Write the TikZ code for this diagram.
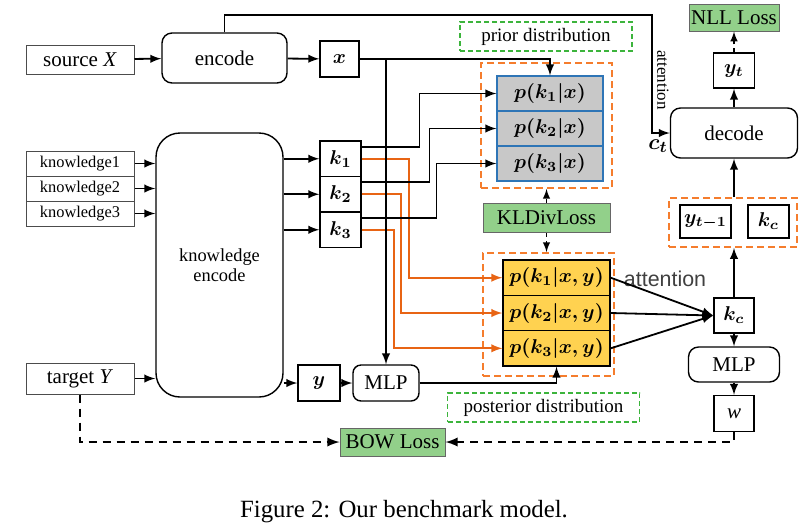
\documentclass[tikz,border=0pt]{standalone}
\usepackage{amsmath,amssymb}
\usepackage{fontspec}
\setmainfont{Liberation Serif}
\newfontfamily\attfont{Liberation Sans}
\usetikzlibrary{calc}
\definecolor{cgreen}{RGB}{146,208,138}
\definecolor{cgreenline}{RGB}{60,180,60}
\definecolor{corange}{RGB}{245,125,45}
\definecolor{cwire}{RGB}{232,100,20}
\definecolor{cgray}{RGB}{200,200,200}
\definecolor{cblue}{RGB}{46,117,182}
\definecolor{cyellow}{RGB}{255,210,80}
\newcommand{\bx}[1]{\boldsymbol{#1}}
\tikzset{
  every picture/.style={line width=0.7pt, >=latex},
  sbox/.style={draw, line width=0.7pt, inner sep=0pt, font=\fontsize{10.5}{12}\selectfont},
  sthin/.style={sbox, draw=black!70, line width=0.5pt},
  sround/.style={sbox, rounded corners=5pt},
  ssmall/.style={sthin, font=\fontsize{8.2}{10}\selectfont, minimum width=54pt, minimum height=12.5pt},
  svar/.style={sbox, font=\fontsize{10}{12}\selectfont, minimum width=20.5pt, minimum height=17.75pt},
  sprior/.style={svar, draw=cblue, line width=0.6pt, fill=cgray, minimum width=53pt, minimum height=17.5pt},
  spost/.style={svar, fill=cyellow, minimum width=53.5pt, minimum height=17.66pt},
  sloss/.style={sbox, draw=black!60, fill=cgreen, line width=0.5pt},
  sdist/.style={sbox, draw=cgreenline, dash pattern=on 2.5pt off 1.5pt, line width=0.8pt, font=\fontsize{9.5}{11}\selectfont},
  sgroup/.style={draw=corange, dash pattern=on 3.5pt off 2pt, line width=0.9pt, inner sep=0pt},
  swire/.style={->, line width=0.9pt},
  sowire/.style={swire, draw=cwire},
  sloose/.style={swire, line width=1.1pt, dash pattern=on 4pt off 3pt},
  sdot/.style={swire, line width=0.7pt, dash pattern=on 2pt off 2pt},
  scaption/.style={font=\fontsize{12.4}{14}\selectfont},
}

\begin{document}
\begin{tikzpicture}[x=0.5pt, y=-0.5pt]
\useasboundingbox (0,0) rectangle (808,527);
% inputs and encoders
\node[sthin, minimum width=54pt, minimum height=14.5pt] (src) at (80,59.5) {source \textit{X}};
\node[sround, minimum width=62.5pt, minimum height=25pt] (enc) at (224.5,58) {encode};
\node[svar, minimum width=19.5pt, minimum height=18pt] (xv) at (339.5,59) {$\bx{x}$};
\node[ssmall] (kn1) at (80,163.5) {knowledge1}; \node[ssmall] (kn2) at (80,188.5) {knowledge2}; \node[ssmall] (kn3) at (80,213.5) {knowledge3};
\node[sround, rounded corners=12pt, minimum width=63.5pt, minimum height=132pt, align=center, font=\fontsize{9.2}{10}\selectfont] (kenc) at (219.5,265) {knowledge\\encode};
\node[svar] (k1) at (340.5,158.75) {$\bx{k_1}$}; \node[svar] (k2) at (340.5,194.25) {$\bx{k_2}$}; \node[svar] (k3) at (340.5,229.75) {$\bx{k_3}$};
\node[sthin, minimum width=54pt, minimum height=15.5pt] (tgt) at (80,378.5) {target \textit{Y}};
\node[svar, minimum width=21pt, minimum height=18pt] (yv) at (319,383) {$\bx{y}$};
\node[sround, rounded corners=4pt, minimum width=33pt, minimum height=18pt] (mlpa) at (386,383) {MLP};
% prior / posterior
\node[sgroup, minimum width=65.5pt, minimum height=62.5pt] (prgrp) at (546.5,125.5) {};
\node[sprior] (pr1) at (550,93.5) {$\bx{p(k_1|x)}$}; \node[sprior] (pr2) at (550,128.5) {$\bx{p(k_2|x)}$}; \node[sprior] (pr3) at (550,163.5) {$\bx{p(k_3|x)}$};
\node[sdist, minimum width=86pt, minimum height=14.5pt] (prlab) at (546,36.5) {prior distribution};
\node[sloss, minimum width=63.5pt, minimum height=14.5pt] (kl) at (546.5,218) {KLDivLoss};
\node[sgroup, minimum width=65.5pt, minimum height=61.5pt] (pogrp) at (548.5,314.5) {};
\node[spost] (po1) at (556.5,277.7) {$\bx{p(k_1|x,y)}$}; \node[spost] (po2) at (556.5,313) {$\bx{p(k_2|x,y)}$}; \node[spost] (po3) at (556.5,348.3) {$\bx{p(k_3|x,y)}$};
\node[sdist, minimum width=96pt, minimum height=14.5pt] (polab) at (543.5,407.5) {posterior distribution};
\node[sloss, minimum width=52.5pt, minimum height=14pt] (bow) at (392.5,442) {BOW Loss};
% decoder side
\node[svar, minimum width=20pt, minimum height=17.5pt] (kc) at (734,315.5) {$\bx{k_c}$};
\node[sround, minimum width=45.5pt, minimum height=17.5pt] (mlpb) at (734,364.5) {MLP};
\node[svar, minimum width=20pt, minimum height=18pt, font=\fontsize{10.5}{12}\selectfont] (wv) at (734,413.5) {\textit{w}};
\node[sround, minimum width=63.5pt, minimum height=25pt] (dec) at (734,133) {decode};
\node[svar, minimum height=17.5pt] (yt) at (734,70.5) {$\bx{y_t}$};
\node[sloss, minimum width=45pt, minimum height=13.5pt] (nll) at (734,17.5) {NLL Loss};
\node[sgroup, minimum width=64pt, minimum height=24.5pt] (ctx) at (733,222.5) {};
\node[svar, minimum width=25.5pt, minimum height=16.5pt] (ytm) at (705.5,221.5) {$\bx{y_{t-1}}$};
\node[svar, minimum height=16.5pt] (kc2) at (768.5,221.5) {$\bx{k_c}$};
\coordinate (att) at (652,15);
\node[font=\fontsize{8.5}{10}\selectfont, rotate=-90] (attlab) at (663,80) {attention};
\node[font=\fontsize{11}{13}\selectfont] (ctlab) at (658,146) {$\bx{c_t}$};
\node[font=\attfont\fontsize{10.7}{12}\selectfont, text=black!75] (attn) at (665,279) {attention};
\node[scaption] (cap) at (404,512) {Figure 2: Our benchmark model.};
% connectors
\draw[swire] (src) -- (enc); \draw[swire] (enc) -- (xv);
\draw[swire] (enc.north) |- (att) |- (dec.west);
\foreach \i in {1,2,3} \draw[swire] (kn\i) -- (kn\i -| kenc.west);
\foreach \i in {1,2,3} \draw[swire] (kenc.east |- k\i) -- (k\i);
\draw[swire] (tgt) -- (tgt -| kenc.west);
\draw[swire] (kenc.east |- yv) -- (yv); \draw[swire] (yv) -- (mlpa);
\foreach \i/\d in {1/46.75,2/50.5,3/54} \draw[sowire] (k\i.east) -| ($(po\i.west)+(-\d pt,0)$) -- (po\i.west);
\foreach \i/\d in {1/38.5,2/33.5,3/30} \draw[swire] ($(k\i.east)+(0,6pt)$) -| ($(pr\i.west)+(-\d pt,0)$) -- (pr\i.west);
\draw[swire] (xv.east) -| (pr1.north);
\draw[swire] (xv.east -| mlpa.north) -- (mlpa.north);
\draw[swire] (mlpa.east) -| (po3.south);
\draw[sdot] (kl.north) -- (kl.north |- prgrp.south); \draw[sdot] (kl.south) -- (kl.south |- pogrp.north);
\foreach \i in {1,2,3} \draw[swire] (po\i.east) -- (kc.west);
\draw[swire] (kc) -- (mlpb); \draw[swire] (mlpb) -- (wv);
\draw[swire] (kc.north) -- (kc.north |- ctx.south);
\draw[swire] (ctx.north -| dec.south) -- (dec.south);
\draw[swire] (dec) -- (yt); \draw[sdot] (yt) -- (nll);
\draw[sloose] (tgt.south) |- (bow.west); \draw[sloose] (wv.south) |- (bow.east);
\end{tikzpicture}
\end{document}
